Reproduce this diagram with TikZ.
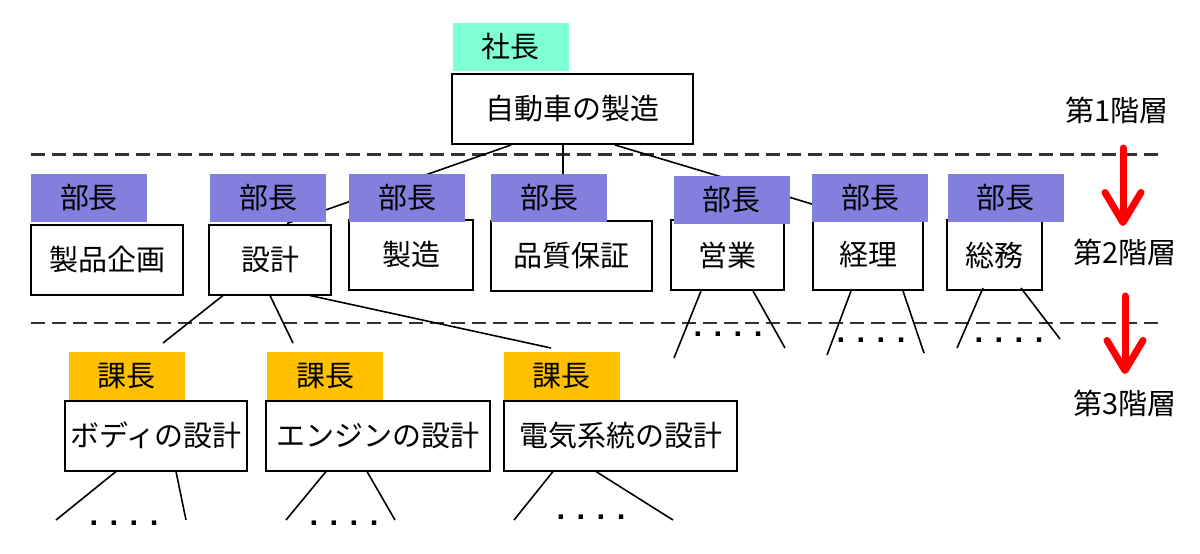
\documentclass[tikz,border=0pt]{standalone}
\usepackage{fontspec}
\setmainfont{Noto Sans CJK JP}
\newfontfamily\dotfont{Liberation Sans}
\usepackage{xcolor}
\usetikzlibrary{arrows.meta, calc}
\definecolor{shachoc}{RGB}{127,255,212}
\definecolor{buchoc}{RGB}{130,128,220}
\definecolor{kachoc}{RGB}{255,192,0}
\tikzset{
  unit/.style={rectangle, draw=black, line width=1pt, inner sep=0pt,
               font=\fontsize{14.5}{17}\selectfont, minimum height=35pt},
  post/.style={rectangle, inner sep=0pt, minimum width=58pt, minimum height=24pt,
               font=\fontsize{14.5}{17}\selectfont},
  shacho/.style={post, fill=shachoc},
  bucho/.style={post, fill=buchoc},
  kacho/.style={post, fill=kachoc},
  link/.style={line width=0.8pt, draw=black},
  sep/.style={line width=1.1pt, draw=black!80, dash pattern=on 7pt off 3.5pt},
  down/.style={-{Straight Barb[length=15pt, width=18pt, line cap=round, line join=round]},
               line width=3.5pt, draw=red, line cap=round},
  layer/.style={font=\fontsize{14.5}{17}\selectfont, inner sep=0pt},
  more/.style={font=\dotfont\bfseries\fontsize{15.5}{17}\selectfont, inner sep=0pt},
}
\begin{document}
\begin{tikzpicture}[x=0.5pt, y=-0.5pt]
  \useasboundingbox (0,0) rectangle (1200,553);

  % boxes
  \node[unit, minimum width=120.5pt] (top) at (572.5,109) {自動車の製造};
  \node[unit, minimum width=76pt] (kikaku) at (107,259.5) {製品企画};
  \node[unit, minimum width=61pt] (sekkei) at (270,259.5) {設計};
  \node[unit, minimum width=62pt] (seizo) at (411,255) {製造};
  \node[unit, minimum width=80.5pt] (hosho) at (571.5,256) {品質保証};
  \node[unit, minimum width=56.5pt] (eigyo) at (727.5,255) {営業};
  \node[unit, minimum width=55pt] (keiri) at (868,255) {経理};
  \node[unit, minimum width=47.5pt] (somu) at (994.5,255) {総務};
  \node[unit, minimum width=91pt] (body) at (156,435.5) {ボディの設計};
  \node[unit, minimum width=112pt] (engine) at (378,435.5) {エンジンの設計};
  \node[unit, minimum width=116.5pt] (denki) at (620.5,435.5) {電気系統の設計};

  % level separators
  \draw[sep] (31,154.5) -- (1163,154.5);
  \draw[sep] (31,323) -- (1163,323);

  % links
  \draw[link] ($(top.south)+(-61.5,0)$) -- ($(sekkei.north)+(17,0)$);
  \draw[link] ($(top.south)+(-9.5,0)$) -- ($(hosho.north)+(-8.5,0)$);
  \draw[link] ($(top.south)+(42.5,0)$) -- ($(keiri.north)+(-6,0)$);

  \coordinate (s1) at (163,343);
  \coordinate (s2) at (293,343);
  \coordinate (s3) at (551,348);
  \draw[link] ($(sekkei.south)+(-47,0)$) -- (s1);
  \draw[link] (sekkei.south) -- (s2);
  \draw[link] ($(sekkei.south)+(40,0)$) -- (s3);

  \coordinate (e1) at (674,358);
  \coordinate (e2) at (785,348);
  \draw[link] ($(eigyo.south)+(-26.5,0)$) -- (e1);
  \draw[link] ($(eigyo.south)+(25.5,0)$) -- (e2);
  \coordinate (k1) at (827,355);
  \coordinate (k2) at (924,353);
  \draw[link] ($(keiri.south)+(-17,0)$) -- (k1);
  \draw[link] ($(keiri.south)+(35,0)$) -- (k2);
  \coordinate (m1) at (957,348);
  \coordinate (m2) at (1060,339);
  \draw[link] ($(somu.south)+(-11.5,-3)$) -- (m1);
  \draw[link] ($(somu.south)+(26.5,-3)$) -- (m2);

  \coordinate (b1) at (56,520);
  \coordinate (b2) at (186,520);
  \draw[link] ($(body.south)+(-40,0)$) -- (b1);
  \draw[link] ($(body.south)+(20,0)$) -- (b2);
  \coordinate (g1) at (286,520);
  \coordinate (g2) at (395,520);
  \draw[link] ($(engine.south)+(-52,0)$) -- (g1);
  \draw[link] ($(engine.south)+(-11,0)$) -- (g2);
  \coordinate (d1) at (514,520);
  \coordinate (d2) at (673,520);
  \draw[link] ($(denki.south)+(-67.5,0)$) -- (d1);
  \draw[link] ($(denki.south)+(-24.5,0)$) -- (d2);

  % posts
  \node[shacho] (president) at (510.5,47) {社長};
  \node[bucho] (bu1) at (89,198) {部長};
  \node[bucho] (bu2) at (268,198) {部長};
  \node[bucho] (bu3) at (407,198) {部長};
  \node[bucho] (bu4) at (549,198) {部長};
  \node[bucho] (bu5) at (731.5,199.5) {部長};
  \node[bucho] (bu6) at (870,198) {部長};
  \node[bucho] (bu7) at (1005.5,198) {部長};
  \node[kacho] (ka1) at (126.5,376) {課長};
  \node[kacho] (ka2) at (325,376) {課長};
  \node[kacho] (ka3) at (561.5,376) {課長};

  % omitted lower units
  \node[more] (eigyomore) at (728,334) {. . . .};
  \node[more] (keirimore) at (871,340) {. . . .};
  \node[more] (somumore) at (1009,340) {. . . .};
  \node[more] (bodymore) at (124,523) {. . . .};
  \node[more] (enginemore) at (344,523) {. . . .};
  \node[more] (denkimore) at (591,517) {. . . .};

  % levels
  \node[layer] (lv1) at (1117,110) {第1階層};
  \node[layer] (lv2) at (1125,252) {第2階層};
  \node[layer] (lv3) at (1125,403) {第3階層};
  \coordinate (a1s) at (1123,148);
  \coordinate (a1e) at (1123,226);
  \coordinate (a2s) at (1125,296);
  \coordinate (a2e) at (1125,374);
  \draw[down] (a1s) -- (a1e);
  \draw[down] (a2s) -- (a2e);
\end{tikzpicture}
\end{document}
